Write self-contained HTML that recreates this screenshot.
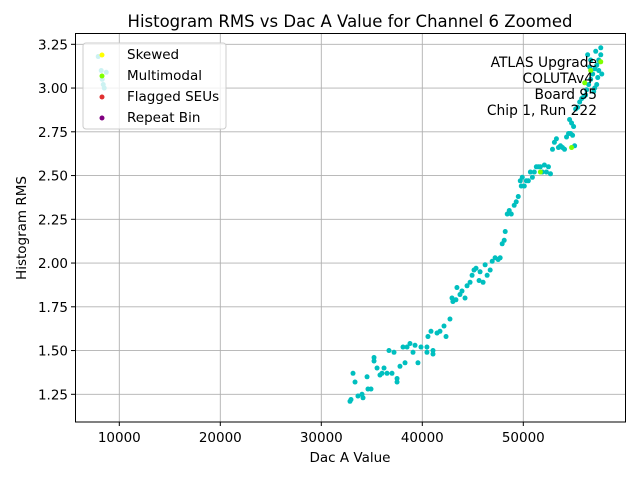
<!DOCTYPE html>
<html><head><meta charset="utf-8"><style>
body{margin:0;background:#fff;font-family:"Liberation Sans","DejaVu Sans",sans-serif;}
svg text{font-family:"DejaVu Sans","Liberation Sans",sans-serif;}
</style></head><body>
<svg id="chart" width="640" height="480" xmlns="http://www.w3.org/2000/svg">
<rect width="640" height="480" fill="#fff"/>
<g id="grid"></g>
<g id="pts"></g>
<rect x="75.5" y="33.5" width="550" height="388.5" fill="none" stroke="#000" stroke-width="1"/>
<g id="ticks"></g>
<text x="350" y="27" font-size="16.5" text-anchor="middle">Histogram RMS vs Dac A Value for Channel 6 Zoomed</text>
<text x="350" y="462" font-size="13.5" text-anchor="middle">Dac A Value</text>
<text transform="translate(26,228) rotate(-90)" font-size="13.5" text-anchor="middle">Histogram RMS</text>
<g font-size="13.8" text-anchor="end">
<text x="597" y="67">ATLAS Upgrade</text>
<text x="593" y="83">COLUTAv4</text>
<text x="597" y="99">Board 95</text>
<text x="597" y="115">Chip 1, Run 222</text>
</g>
<g>
<rect x="83" y="43" width="143" height="86" rx="3" fill="#fff" fill-opacity="0.8" stroke="#ccc"/>
<circle cx="102" cy="55" r="2.5" fill="#ffff00"/>
<text x="127" y="59" font-size="13.5">Skewed</text>
<circle cx="102" cy="76" r="2.5" fill="#7fff00"/>
<text x="127" y="80" font-size="13.5">Multimodal</text>
<circle cx="102" cy="97" r="2.5" fill="#e03030"/>
<text x="127" y="101" font-size="13.5">Flagged SEUs</text>
<circle cx="102" cy="118" r="2.5" fill="#800080"/>
<text x="127" y="122" font-size="13.5">Repeat Bin</text>
</g>
</svg>
<script>
const xTicks=[10000,20000,30000,40000,50000];
const yTicks=[1.25,1.5,1.75,2.0,2.25,2.5,2.75,3.0,3.25];
const yTickLabels=["1.25","1.50","1.75","2.00","2.25","2.50","2.75","3.00","3.25"];
const dacVals=[32840,32940,33140,33340,33630,34030,34130,34530,34620,34920,35220,35220,35520,35810,36010,36210,36510,36700,37000,37200,37500,37500,37790,38090,38290,38490,38780,39080,39280,39570,39870,40460,40460,40560,40860,41060,41060,41460,41750,42150,42350,
42740,42940,43030,43330,43430,43730,43930,44230,44430,44730,44930,45120,45320,45620,45720,46020,46220,46420,46720,46920,47210,47510,47710,47910,48110,48210,48410,48610,48810,49100,49300,49500,49700,49800,49900,50100,50300,50500,50700,50900,51090,51290,51490,51690,51890,52090,52290,52490,52690,52890,53080,53280,53480,53680,53880,54080,54280,54480,54680,54880,55080,54980,54780,54580,55180,55380,55580,55780,55980,56170,56270,56470,56670,56870,57070,57270,57470,57470,57270,56970,57670,56670,56370,57170,57670,57770,57370,56570,57070,57570,7910,8210,8710,8310,8410,8510];
const rmsVals=[1.21,1.22,1.37,1.32,1.24,1.25,1.23,1.35,1.28,1.28,1.46,1.44,1.40,1.36,1.37,1.40,1.37,1.50,1.37,1.49,1.34,1.32,1.41,1.52,1.43,1.52,1.54,1.49,1.53,1.43,1.52,1.52,1.49,1.58,1.61,1.50,1.48,1.60,1.61,1.64,1.58,
1.68,1.80,1.78,1.79,1.86,1.82,1.84,1.80,1.87,1.89,1.93,1.96,1.97,1.90,1.95,1.89,1.99,1.93,1.96,2.01,2.03,2.02,2.03,2.11,2.13,2.18,2.28,2.30,2.28,2.33,2.35,2.38,2.47,2.44,2.49,2.44,2.47,2.47,2.52,2.49,2.52,2.55,2.55,2.55,2.52,2.56,2.52,2.55,2.51,2.65,2.69,2.71,2.66,2.67,2.66,2.65,2.72,2.74,2.74,2.73,2.67,2.78,2.80,2.82,2.88,2.89,2.92,2.94,2.95,2.96,2.99,3.02,3.05,3.08,3.11,3.13,3.16,3.10,3.02,2.98,3.19,3.16,3.19,3.21,3.23,3.08,3.06,3.12,3.00,3.15,3.18,3.10,3.09,3.05,3.02,3.00];
const multiDac=[54780,51690,57670,56670,56080];
const multiRms=[2.66,2.52,3.15,3.10,3.03];
const NS="http://www.w3.org/2000/svg";
function sx(v){return 18.3+v*0.0101;}
function sy(v){return 394.3-(v-1.25)*175;}
const grid=document.getElementById('grid'),ticks=document.getElementById('ticks'),pts=document.getElementById('pts');
function mk(tag,attrs,parent){const e=document.createElementNS(NS,tag);for(const k in attrs)e.setAttribute(k,attrs[k]);parent.appendChild(e);return e;}
xTicks.forEach(t=>{const x=sx(t);
 const g=mk('line',{x1:x,x2:x,y1:33,y2:422,stroke:'#b0b0b0','stroke-width':0.9},grid);
 
 
 mk('line',{x1:x,x2:x,y1:422,y2:426,stroke:'#000'},ticks);
 const tx=mk('text',{x:x,y:442,'font-size':13.5,'text-anchor':'middle'},ticks);tx.textContent=t;
 
 
});
yTicks.forEach((t,i)=>{const y=sy(t);
 const g=mk('line',{x1:75,x2:625,y1:y,y2:y,stroke:'#b0b0b0','stroke-width':0.9},grid);
 
 
 mk('line',{x1:71,x2:75,y1:y,y2:y,stroke:'#000'},ticks);
 const tx=mk('text',{x:68,y:y+5,'font-size':13.5,'text-anchor':'end'},ticks);tx.textContent=yTickLabels[i];
 
 
});
dacVals.forEach((d,i)=>{const c=mk('circle',{cx:sx(d),cy:sy(rmsVals[i]),r:2.5,fill:'#00bfbf'},pts);
 
 
});
multiDac.forEach((d,i)=>{const c=mk('circle',{cx:sx(d),cy:sy(multiRms[i]),r:2.5,fill:'#7fff00'},pts);
 
 
});
</script>
</body></html>
